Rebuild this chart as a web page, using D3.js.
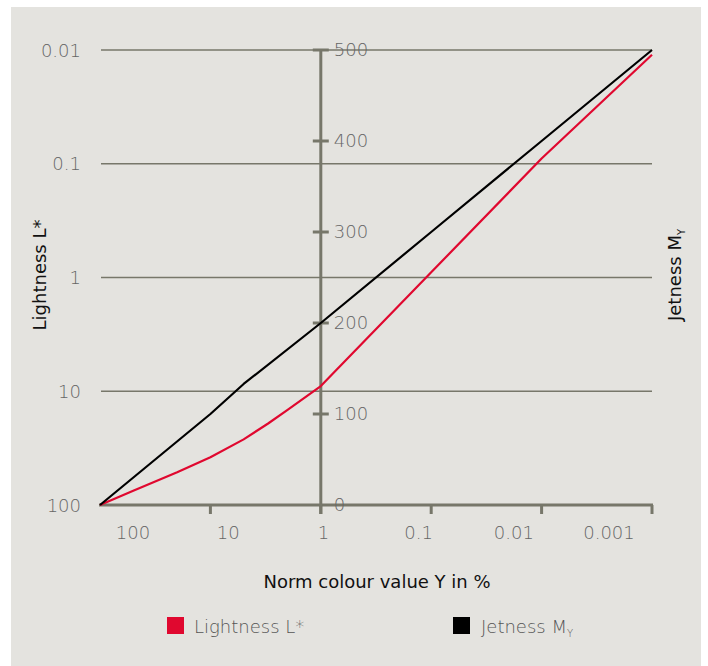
<!DOCTYPE html>
<html><head><meta charset="utf-8">
<script src="https://cdn.jsdelivr.net/npm/d3@7"></script>
<style>body{margin:0;background:#fff} svg{display:block}</style>
</head><body><svg id="c" width="708" height="666"></svg>
<script>
// Lightness L* (red) vs norm colour value Y in %
const lightY = [100, 50, 20, 10, 5, 3, 2, 1, 0.1, 0.01, 0.001];
const lightness = [100, 75, 51.5, 38, 26.5, 19.2, 14.6, 9.0, 0.9, 0.09, 0.011];
// Jetness M_Y (black) vs norm colour value Y in %
const jetY = [100, 10, 5, 1, 0.1, 0.01, 0.001];
const jetness = [0, 100, 133, 200, 300, 400, 500];
// ticks
const xTicks = [10, 1, 0.1, 0.01, 0.001];
const xTickLabels = ["100", "10", "1", "0.1", "0.01", "0.001"];
const leftTicks = [0.01, 0.1, 1, 10, 100];
const leftTickLabels = ["0.01", "0.1", "1", "10", "100"];
const rightTicks = [0, 100, 200, 300, 400, 500];

const AX = "#77776a", TXT = "#666666", RED = "#e0082f";
const FONT = "'DejaVu Sans', sans-serif";
const svg = d3.select("#c");

svg.append("rect").attr("x", 11).attr("y", 7).attr("width", 690).attr("height", 659).attr("fill", "#e4e3df");

const x = d3.scaleLog().domain([100, 0.001]).range([100, 652]);
const yL = d3.scaleLog().domain([100, 0.01]).range([505, 50]);
const yR = d3.scaleLinear().domain([0, 500]).range([505, 50]);
const xLab = d3.scalePoint().domain(xTickLabels).range([133, 609]);

// grid lines
svg.append("g").selectAll("line").data(leftTicks.filter(d => d !== 100)).join("line")
  .attr("x1", 101).attr("x2", x(0.001)).attr("y1", d => yL(d)).attr("y2", d => yL(d))
  .attr("stroke", AX).attr("stroke-width", 1.5);

// left labels
svg.append("g").selectAll("text").data(leftTicks).join("text")
  .attr("x", 81).attr("y", d => yL(d) + 6.5).attr("text-anchor", "end")
  .attr("font-family", FONT).attr("font-size", 18).attr("font-weight", 200).attr("fill", TXT)
  .text((d, i) => leftTickLabels[i]);

// bottom axis
svg.append("line").attr("x1", x(100) - 1).attr("x2", x(0.001) + 1).attr("y1", 505).attr("y2", 505)
  .attr("stroke", AX).attr("stroke-width", 3);
svg.append("g").selectAll("line").data(xTicks).join("line")
  .attr("x1", d => x(d)).attr("x2", d => x(d)).attr("y1", 505).attr("y2", 514)
  .attr("stroke", AX).attr("stroke-width", 3);
svg.append("g").selectAll("text").data(xTickLabels).join("text")
  .attr("x", d => xLab(d)).attr("y", 539).attr("text-anchor", "middle")
  .attr("font-family", FONT).attr("font-size", 18).attr("font-weight", 200).attr("fill", TXT)
  .text(d => d);

// centre axis (Jetness)
const cx = x(1);
svg.append("line").attr("x1", cx).attr("x2", cx).attr("y1", yR(500)).attr("y2", 514)
  .attr("stroke", AX).attr("stroke-width", 3);
svg.append("g").selectAll("line").data(rightTicks.filter(d => d > 0)).join("line")
  .attr("x1", cx - 8).attr("x2", cx + 8).attr("y1", d => yR(d)).attr("y2", d => yR(d))
  .attr("stroke", AX).attr("stroke-width", 3);
svg.append("g").selectAll("text").data(rightTicks).join("text")
  .attr("x", cx + 13).attr("y", d => yR(d) + 5.5)
  .attr("font-family", FONT).attr("font-size", 18).attr("font-weight", 200).attr("fill", TXT)
  .text(d => d);

// lines
const redLine = d3.line().x((d, i) => x(lightY[i])).y(d => yL(d));
svg.append("path").attr("d", redLine(lightness)).attr("fill", "none").attr("stroke", RED)
  .attr("stroke-width", 2.2).attr("stroke-linejoin", "round");
const blackLine = d3.line().x((d, i) => x(jetY[i])).y(d => yR(d));
svg.append("path").attr("d", blackLine(jetness)).attr("fill", "none").attr("stroke", "#000")
  .attr("stroke-width", 2.2).attr("stroke-linejoin", "round");

// axis titles
svg.append("text").attr("transform", "translate(46,275) rotate(-90)").attr("text-anchor", "middle")
  .attr("font-family", FONT).attr("font-size", 18).attr("fill", "#111").text("Lightness L*");
const jt = svg.append("text").attr("transform", "translate(681,275) rotate(-90)").attr("text-anchor", "middle")
  .attr("font-family", FONT).attr("font-size", 18).attr("fill", "#111");
jt.append("tspan").text("Jetness M");
jt.append("tspan").attr("font-size", 10).attr("dy", 4).text("Y");
svg.append("text").attr("x", 377).attr("y", 588).attr("text-anchor", "middle")
  .attr("font-family", FONT).attr("font-size", 18).attr("fill", "#111").text("Norm colour value Y in %");

// legend
svg.append("rect").attr("x", 167).attr("y", 617).attr("width", 17).attr("height", 17).attr("fill", RED);
svg.append("text").attr("x", 194).attr("y", 633).attr("font-family", FONT).attr("font-size", 18)
  .attr("font-weight", 200).attr("fill", "#555").text("Lightness L*");
svg.append("rect").attr("x", 453).attr("y", 617).attr("width", 17).attr("height", 17).attr("fill", "#000");
const lt = svg.append("text").attr("x", 481).attr("y", 633).attr("font-family", FONT).attr("font-size", 18)
  .attr("font-weight", 200).attr("fill", "#555");
lt.append("tspan").text("Jetness M");
lt.append("tspan").attr("font-size", 10).attr("dy", 4).text("Y");
</script></body></html>
